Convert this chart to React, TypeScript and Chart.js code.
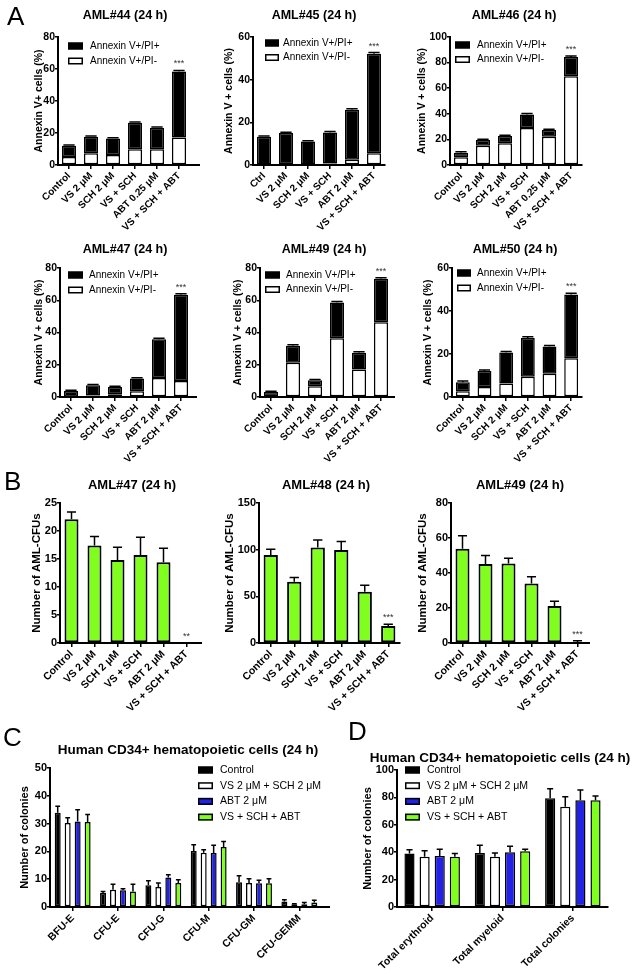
import React, { useEffect, useRef } from 'react';
import { Chart, registerables } from 'chart.js';
Chart.register(...registerables);

const FONT = '"Liberation Sans", Arial, Helvetica, sans-serif';
Chart.defaults.font.family = FONT;
Chart.defaults.color = '#000';

const BLACK = '#000000';
const WHITE = '#ffffff';
const BLUE = '#2222e6';
const GREEN = '#80ff1e';

// ---------- Panel A: categories ----------
const catA025 = ['Control', 'VS 2 μM', 'SCH 2 μM', 'VS + SCH', 'ABT 0.25 μM', 'VS + SCH + ABT'];
const catA45 = ['Ctrl', 'VS 2 μM', 'SCH 2 μM', 'VS + SCH', 'ABT 2 μM', 'VS + SCH + ABT'];
const catA2 = ['Control', 'VS 2 μM', 'SCH 2 μM', 'VS + SCH', 'ABT 2 μM', 'VS + SCH + ABT'];

// ---------- Panel A: values (Annexin V+/PI- bottom, Annexin V+/PI+ top) ----------
const aml44Neg = [5.0, 7.3, 6.2, 9.8, 9.8, 17.2];
const aml44Pos = [7.0, 10.4, 10.4, 16.6, 13.5, 41.3];
const aml44Err = [0.5, 0.5, 0.5, 0.5, 0.5, 0.6];

const aml45Neg = [0.2, 0.3, 0.2, 0.7, 2.5, 5.5];
const aml45Pos = [13.0, 14.7, 10.8, 14.5, 23.4, 46.7];
const aml45Err = [0.4, 0.4, 0.4, 0.5, 0.5, 0.5];

const aml46Neg = [6.0, 15.0, 17.0, 29.0, 22.0, 69.4];
const aml46Pos = [3.6, 4.5, 5.6, 10.5, 5.3, 15.0];
const aml46Err = [0.7, 0.7, 0.7, 0.7, 0.7, 0.8];

const aml47Neg = [0.2, 1.0, 1.7, 3.5, 11.8, 10.0];
const aml47Pos = [3.5, 6.3, 4.5, 7.9, 24.0, 53.4];
const aml47Err = [0.5, 0.5, 0.4, 0.5, 0.6, 0.6];

const aml49Neg = [0.5, 21.2, 6.7, 36.4, 17.0, 46.4];
const aml49Pos = [2.6, 10.6, 3.7, 22.2, 10.4, 27.0];
const aml49Err = [0.5, 0.6, 0.5, 0.6, 0.6, 0.6];

const aml50Neg = [2.7, 4.7, 6.3, 9.4, 10.8, 18.0];
const aml50Pos = [4.2, 7.4, 14.4, 18.1, 12.7, 29.7];
const aml50Err = [0.5, 0.5, 0.5, 0.5, 0.5, 0.6];

// ---------- Panel B: AML-CFUs ----------
const cfu47 = [22.1, 17.4, 14.8, 15.7, 14.4, 0];
const cfu47Err = [1.3, 1.6, 2.3, 3.2, 2.5, 0];
const cfu48 = [94.4, 65.7, 102.3, 99.7, 54.9, 18.3];
const cfu48Err = [6.0, 4.5, 8.0, 9.0, 7.0, 1.8];
const cfu49 = [53.8, 45.2, 45.5, 34.0, 21.2, 0.6];
const cfu49Err = [7.5, 4.8, 3.0, 3.8, 2.7, 0.7];

// ---------- Panel C: colony types ----------
const catC = ['BFU-E', 'CFU-E', 'CFU-G', 'CFU-M', 'CFU-GM', 'CFU-GEMM'];
const cCtrl = [33.9, 5.0, 7.8, 20.1, 8.9, 2.0];
const cCtrlErr = [2.3, 0.6, 1.6, 2.3, 2.3, 0.6];
const cVsSch = [30.2, 6.2, 7.2, 19.5, 8.6, 1.0];
const cVsSchErr = [1.9, 2.0, 1.4, 1.1, 1.6, 0.2];
const cAbt = [30.8, 6.0, 10.6, 19.4, 8.5, 1.0];
const cAbtErr = [4.2, 0.6, 1.0, 2.8, 1.1, 0.6];
const cCombo = [30.6, 5.6, 8.6, 21.6, 8.5, 1.6];
const cComboErr = [2.7, 2.6, 1.2, 2.0, 1.7, 0.8];

// ---------- Panel D: totals ----------
const catD = ['Total erythroid', 'Total myeloid', 'Total colonies'];
const dCtrl = [39.0, 39.5, 79.3];
const dCtrlErr = [2.7, 5.5, 7.0];
const dVsSch = [36.6, 36.6, 73.2];
const dVsSchErr = [4.4, 2.9, 7.3];
const dAbt = [37.3, 40.0, 78.0];
const dAbtErr = [4.9, 4.4, 7.4];
const dCombo = [36.6, 40.7, 78.0];
const dComboErr = [2.4, 1.5, 3.0];

const legendA = [
  { label: 'Annexin V+/PI+', color: BLACK },
  { label: 'Annexin V+/PI-', color: WHITE },
];
const legendCD = [
  { label: 'Control', color: BLACK },
  { label: 'VS 2 μM + SCH 2 μM', color: WHITE },
  { label: 'ABT 2 μM', color: BLUE },
  { label: 'VS + SCH + ABT', color: GREEN },
];

type DS = { label: string; data: number[]; color: string; err?: number[] };
type Legend = { boxX: number; y0: number; dy: number; textX: number; size: number; boxW: number; boxH: number; items: { label: string; color: string }[] };
type Spec = {
  id: string;
  L: number; T: number; R: number; B: number; axisEnd?: number; xhWanted: number;
  labels: string[]; datasets: DS[]; stacked: boolean;
  yMax: number; yStep: number;
  title: string; titleX: number; titleY: number; titleSize: number;
  yTitle: string; yTitleX: number; yTitleSize: number;
  tickSize: number; xLabelSize: number;
  catPct: number; barPct: number; borderW: number; capFrac: number;
  legend?: Legend;
  stars?: { ds: number; index: number; text: string };
};

function stackedA(neg: number[], pos: number[], err: number[]): DS[] {
  return [
    { label: 'Annexin V+/PI-', data: neg, color: WHITE },
    { label: 'Annexin V+/PI+', data: pos, color: BLACK, err },
  ];
}

const aCommon = {
  stacked: true, titleSize: 12.5, yTitleSize: 10.5, tickSize: 10.5, xLabelSize: 10,
  catPct: 0.8, barPct: 0.8, borderW: 1.5, capFrac: 0.8, xhWanted: 72,
};
const bCommon = {
  stacked: false, titleSize: 13, yTitleSize: 11.5, tickSize: 11, xLabelSize: 10.5,
  catPct: 0.8, barPct: 0.76, borderW: 2, capFrac: 0.65, xhWanted: 68, T: 503, B: 643,
  yTitle: 'Number of AML-CFUs', labels: catA2,
};

const specs: Spec[] = [
  { ...aCommon, id: 'a44', L: 58, T: 37, R: 190, B: 165, axisEnd: 200, labels: catA025,
    datasets: stackedA(aml44Neg, aml44Pos, aml44Err), yMax: 80, yStep: 20,
    title: 'AML#44 (24 h)', titleX: 125, titleY: 16, yTitle: 'Annexin V+ cells (%)', yTitleX: 39,
    legend: { boxX: 68, y0: 46, dy: 15, textX: 90, size: 10, boxW: 15, boxH: 7, items: legendA },
    stars: { ds: 1, index: 5, text: '***' } },
  { ...aCommon, id: 'a45', L: 253, T: 37, R: 385, B: 165, labels: catA45,
    datasets: stackedA(aml45Neg, aml45Pos, aml45Err), yMax: 60, yStep: 20,
    title: 'AML#45 (24 h)', titleX: 314, titleY: 16, yTitle: 'Annexin V + cells (%)', yTitleX: 229,
    legend: { boxX: 265, y0: 43, dy: 14.5, textX: 283, size: 10, boxW: 14, boxH: 7, items: legendA },
    stars: { ds: 1, index: 5, text: '***' } },
  { ...aCommon, id: 'a46', L: 450, T: 37, R: 582, B: 165, labels: catA025,
    datasets: stackedA(aml46Neg, aml46Pos, aml46Err), yMax: 100, yStep: 20,
    title: 'AML#46 (24 h)', titleX: 514, titleY: 16, yTitle: 'Annexin V + cells (%)', yTitleX: 422,
    legend: { boxX: 455, y0: 45, dy: 14.5, textX: 477, size: 10, boxW: 15, boxH: 7, items: legendA },
    stars: { ds: 1, index: 5, text: '***' } },
  { ...aCommon, id: 'a47', L: 60, T: 268, R: 192, B: 397, axisEnd: 197, labels: catA2,
    datasets: stackedA(aml47Neg, aml47Pos, aml47Err), yMax: 80, yStep: 20,
    title: 'AML#47 (24 h)', titleX: 125, titleY: 250, yTitle: 'Annexin V + cells (%)', yTitleX: 39,
    legend: { boxX: 68, y0: 275, dy: 15, textX: 89, size: 10, boxW: 15, boxH: 7, items: legendA },
    stars: { ds: 1, index: 5, text: '***' } },
  { ...aCommon, id: 'a49', L: 260, T: 268, R: 392, B: 397, axisEnd: 395, labels: catA2,
    datasets: stackedA(aml49Neg, aml49Pos, aml49Err), yMax: 80, yStep: 20,
    title: 'AML#49 (24 h)', titleX: 324, titleY: 250, yTitle: 'Annexin V + cells (%)', yTitleX: 238,
    legend: { boxX: 265, y0: 275, dy: 14.5, textX: 286, size: 10, boxW: 15, boxH: 7, items: legendA },
    stars: { ds: 1, index: 5, text: '***' } },
  { ...aCommon, id: 'a50', L: 452, T: 268, R: 582, B: 397, labels: catA2,
    datasets: stackedA(aml50Neg, aml50Pos, aml50Err), yMax: 60, yStep: 20,
    title: 'AML#50 (24 h)', titleX: 515, titleY: 250, yTitle: 'Annexin V + cells (%)', yTitleX: 428,
    legend: { boxX: 457, y0: 273, dy: 15, textX: 477, size: 10, boxW: 14, boxH: 7, items: legendA },
    stars: { ds: 1, index: 5, text: '***' } },
  { ...bCommon, id: 'b47', L: 60, R: 198, axisEnd: 202,
    datasets: [{ label: 'CFU', data: cfu47, color: GREEN, err: cfu47Err }], yMax: 25, yStep: 5,
    title: 'AML#47 (24 h)', titleX: 132, titleY: 485, yTitleX: 37,
    stars: { ds: 0, index: 5, text: '**' } },
  { ...bCommon, id: 'b48', L: 259, R: 400,
    datasets: [{ label: 'CFU', data: cfu48, color: GREEN, err: cfu48Err }], yMax: 150, yStep: 50,
    title: 'AML#48 (24 h)', titleX: 326, titleY: 485, yTitleX: 230,
    stars: { ds: 0, index: 5, text: '***' } },
  { ...bCommon, id: 'b49', L: 451, R: 589, axisEnd: 590,
    datasets: [{ label: 'CFU', data: cfu49, color: GREEN, err: cfu49Err }], yMax: 80, yStep: 20,
    title: 'AML#49 (24 h)', titleX: 520, titleY: 485, yTitleX: 423,
    stars: { ds: 0, index: 5, text: '***' } },
  { id: 'c', L: 50, T: 768, R: 322, B: 907, axisEnd: 330, xhWanted: 68, labels: catC, stacked: false,
    datasets: [
      { label: 'Control', data: cCtrl, color: BLACK, err: cCtrlErr },
      { label: 'VS 2 μM + SCH 2 μM', data: cVsSch, color: WHITE, err: cVsSchErr },
      { label: 'ABT 2 μM', data: cAbt, color: BLUE, err: cAbtErr },
      { label: 'VS + SCH + ABT', data: cCombo, color: GREEN, err: cComboErr },
    ],
    yMax: 50, yStep: 10,
    title: 'Human CD34+ hematopoietic cells (24 h)', titleX: 188, titleY: 750, titleSize: 13.5,
    yTitle: 'Number of colonies', yTitleX: 25, yTitleSize: 11, tickSize: 11, xLabelSize: 10.5,
    catPct: 0.88, barPct: 0.6, borderW: 1.5, capFrac: 0.8,
    legend: { boxX: 198, y0: 770, dy: 15.7, textX: 220, size: 10.5, boxW: 15, boxH: 7, items: legendCD } },
  { id: 'd', L: 397, T: 770, R: 608, B: 907, xhWanted: 68, labels: catD, stacked: false,
    datasets: [
      { label: 'Control', data: dCtrl, color: BLACK, err: dCtrlErr },
      { label: 'VS 2 μM + SCH 2 μM', data: dVsSch, color: WHITE, err: dVsSchErr },
      { label: 'ABT 2 μM', data: dAbt, color: BLUE, err: dAbtErr },
      { label: 'VS + SCH + ABT', data: dCombo, color: GREEN, err: dComboErr },
    ],
    yMax: 100, yStep: 20,
    title: 'Human CD34+ hematopoietic cells (24 h)', titleX: 500, titleY: 758, titleSize: 13.5,
    yTitle: 'Number of colonies', yTitleX: 368, yTitleSize: 11, tickSize: 11, xLabelSize: 10.5,
    catPct: 0.86, barPct: 0.67, borderW: 1.5, capFrac: 0.6,
    legend: { boxX: 405, y0: 770, dy: 15.7, textX: 427, size: 10.5, boxW: 15, boxH: 7, items: legendCD } },
];

type Geom = { cl: number; ct: number; cw: number; ch: number; yw: number; pt: number; pr: number; xh: number };

function geom(s: Spec): Geom {
  const cl = Math.max(0, s.L - 58);
  const ct = s.T - 34;
  const right = Math.min(634, s.R + 30);
  const bottom = Math.min(975, s.B + s.xhWanted);
  return { cl, ct, cw: right - cl, ch: bottom - ct, yw: s.L - cl, pt: s.T - ct, pr: right - s.R, xh: bottom - s.B };
}

function drawAnnot(chart: any, s: Spec, g: Geom) {
  const ctx = chart.ctx as CanvasRenderingContext2D;
  const ys = chart.scales.y;
  const xs = chart.scales.x;
  const ox = g.cl, oy = g.ct;
  ctx.save();
  // axis extension to the right
  if (s.axisEnd && s.axisEnd > s.R) {
    const yb = Math.round(xs.top - 1) + 1;
    ctx.strokeStyle = '#000';
    ctx.lineWidth = 2;
    ctx.beginPath();
    ctx.moveTo(chart.chartArea.right - 1, yb);
    ctx.lineTo(s.axisEnd - ox, yb);
    ctx.stroke();
  }
  // error bars (upper only)
  s.datasets.forEach((d, i) => {
    if (!d.err) return;
    const meta = chart.getDatasetMeta(i);
    meta.data.forEach((el: any, j: number) => {
      const e = d.err![j];
      if (!e) return;
      const p = el.getProps(['x', 'y', 'width'], true);
      const topVal = ys.getValueForPixel(p.y);
      const yE = ys.getPixelForValue(topVal + e);
      const half = (p.width * s.capFrac) / 2;
      ctx.strokeStyle = '#000';
      ctx.lineWidth = 1.5;
      ctx.beginPath();
      ctx.moveTo(p.x, p.y);
      ctx.lineTo(p.x, yE);
      ctx.moveTo(p.x - half, yE);
      ctx.lineTo(p.x + half, yE);
      ctx.stroke();
    });
  });
  // significance stars
  if (s.stars) {
    const d = s.datasets[s.stars.ds];
    const el = chart.getDatasetMeta(s.stars.ds).data[s.stars.index];
    const p = el.getProps(['x', 'y'], true);
    const topVal = ys.getValueForPixel(p.y);
    const e = d.err ? d.err[s.stars.index] : 0;
    const yE = ys.getPixelForValue(topVal + e);
    ctx.fillStyle = '#333';
    ctx.font = `9px ${FONT}`;
    ctx.textAlign = 'center';
    ctx.textBaseline = 'alphabetic';
    ctx.fillText(s.stars.text, p.x, yE - 4);
  }
  // title
  ctx.fillStyle = '#000';
  ctx.font = `bold ${s.titleSize}px ${FONT}`;
  ctx.textAlign = 'center';
  ctx.textBaseline = 'middle';
  ctx.fillText(s.title, s.titleX - ox, s.titleY - oy);
  // y title
  ctx.save();
  ctx.translate(s.yTitleX - ox, (s.T + s.B) / 2 - oy);
  ctx.rotate(-Math.PI / 2);
  ctx.font = `bold ${s.yTitleSize}px ${FONT}`;
  ctx.fillText(s.yTitle, 0, 0);
  ctx.restore();
  // legend
  if (s.legend) {
    const lg = s.legend;
    lg.items.forEach((it, i) => {
      const cy = lg.y0 + i * lg.dy - oy;
      const bx = lg.boxX - ox;
      ctx.fillStyle = it.color;
      ctx.fillRect(bx, cy - lg.boxH / 2, lg.boxW, lg.boxH);
      ctx.strokeStyle = '#000';
      ctx.lineWidth = 1.5;
      ctx.strokeRect(bx + 0.75, cy - lg.boxH / 2 + 0.75, lg.boxW - 1.5, lg.boxH - 1.5);
      ctx.fillStyle = '#000';
      ctx.font = `${lg.size}px ${FONT}`;
      ctx.textAlign = 'left';
      ctx.textBaseline = 'middle';
      ctx.fillText(it.label, lg.textX - ox, cy);
    });
  }
  ctx.restore();
}

function ChartPanel({ spec }: { spec: Spec }) {
  const ref = useRef<HTMLCanvasElement>(null);
  const g = geom(spec);
  useEffect(() => {
    if (!ref.current) return;
    const plugin = {
      id: 'annot_' + spec.id,
      afterDatasetsDraw(chart: any) { drawAnnot(chart, spec, g); },
    };
    const axisGrid = { offset: false, drawOnChartArea: false, drawTicks: true, tickLength: 4, color: '#000', lineWidth: 1.5 };
    const border = { display: true, color: '#000', width: 2 };
    const chart = new Chart(ref.current, {
      type: 'bar',
      data: {
        labels: spec.labels,
        datasets: spec.datasets.map((d) => ({
          label: d.label,
          data: d.data,
          backgroundColor: d.color,
          borderColor: '#000',
          borderWidth: spec.borderW,
          borderSkipped: false,
          categoryPercentage: spec.catPct,
          barPercentage: spec.barPct,
        })),
      },
      options: {
        responsive: false,
        animation: false,
        devicePixelRatio: 1,
        layout: { padding: { left: 0, top: g.pt, right: g.pr, bottom: 0 } },
        plugins: { legend: { display: false }, title: { display: false }, tooltip: { enabled: false } },
        scales: {
          x: {
            stacked: spec.stacked,
            offset: true,
            grid: axisGrid,
            border,
            ticks: {
              autoSkip: false, maxRotation: 45, minRotation: 45, padding: 1, color: '#000',
              font: { size: spec.xLabelSize, weight: 'bold', family: FONT },
            },
            afterFit: (sc: any) => { sc.height = g.xh; },
          },
          y: {
            stacked: spec.stacked,
            min: 0,
            max: spec.yMax,
            grid: { ...axisGrid, tickLength: 3 },
            border,
            ticks: {
              stepSize: spec.yStep, padding: 0, color: '#000',
              font: { size: spec.tickSize, weight: 'bold', family: FONT },
            },
            afterFit: (sc: any) => { sc.width = g.yw; },
          },
        },
      } as any,
      plugins: [plugin],
    });
    return () => chart.destroy();
  }, []);
  return (
    <canvas
      ref={ref}
      width={g.cw}
      height={g.ch}
      style={{ position: 'absolute', left: g.cl, top: g.ct, width: g.cw, height: g.ch }}
    />
  );
}

const letters = [
  { t: 'A', x: 7, base: 25 },
  { t: 'B', x: 4, base: 490 },
  { t: 'C', x: 3, base: 746 },
  { t: 'D', x: 348, base: 740 },
];

export default function App() {
  return (
    <div style={{ position: 'absolute', left: 0, top: 0, width: 634, height: 975, background: '#fff', overflow: 'hidden' }}>
      {specs.map((s) => <ChartPanel key={s.id} spec={s} />)}
      {letters.map((l) => (
        <div key={l.t} style={{ position: 'absolute', left: l.x, top: l.base - 22, fontFamily: FONT, fontSize: 26, lineHeight: '26px', color: '#000' }}>{l.t}</div>
      ))}
    </div>
  );
}
